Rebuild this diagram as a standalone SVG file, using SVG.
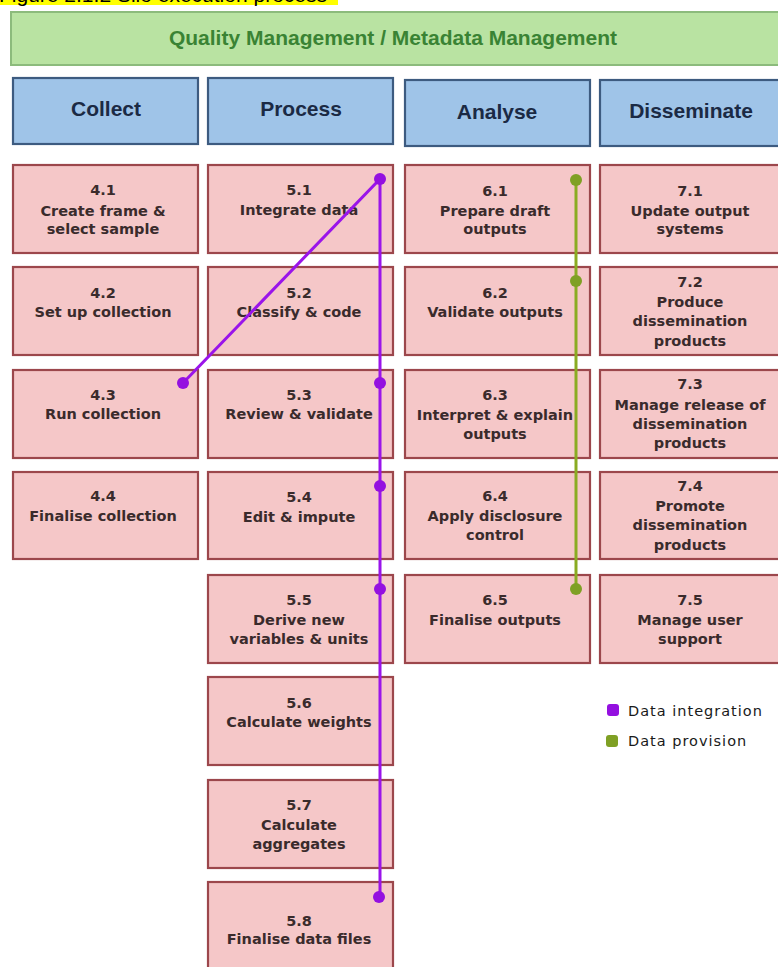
<svg xmlns="http://www.w3.org/2000/svg" width="778" height="967" viewBox="0 0 778 967">
  <style>
    .banner{fill:#b9e3a2;stroke:#8cbb7c;stroke-width:2}
    .bannerText{font-family:"Liberation Sans",Arial,sans-serif;font-weight:bold;font-size:21px;fill:#3a8334;text-anchor:middle}
    .hdr{fill:#9fc4e8;stroke:#3d5b80;stroke-width:2.2}
    .hdrText{font-family:"Liberation Sans",Arial,sans-serif;font-weight:bold;font-size:21px;fill:#1b2a44;text-anchor:middle}
    .box{fill:#f5c7c8;stroke:#9c474c;stroke-width:2.2}
    .t{font-family:"DejaVu Sans",Verdana,sans-serif;font-weight:bold;font-size:14.5px;fill:#3a2b2c;text-anchor:middle}
    .legend{font-family:"DejaVu Sans",Verdana,sans-serif;font-size:14.5px;fill:#1a1a1a;letter-spacing:1px}
    .integ{stroke:#9a14ea;stroke-width:3;fill:none}
    .prov{stroke:#8aac22;stroke-width:3;fill:none}
    .integDot{fill:#9410e0}
    .provDot{fill:#7fa024}
  </style>

  <rect width="778" height="967" fill="#ffffff"/>

  <!-- caption, mostly above the page -->
  <g id="caption">
    <rect x="0" y="0" width="338" height="5" fill="#ffff00"/>
    <text x="-1" y="2" font-family="Liberation Sans, Arial, sans-serif" font-size="21" fill="#000">Figure 2.1.2 Silo execution process</text>
  </g>

  <!-- overarching management band -->
  <g id="band">
    <rect class="banner" x="11" y="12" width="775" height="53"/>
    <text class="bannerText" x="393" y="45">Quality Management / Metadata Management</text>
  </g>

  <!-- phase headers -->
  <g id="hdr-collect"><rect class="hdr" x="13" y="78" width="185" height="66"/><text class="hdrText" x="106" y="116">Collect</text></g>
  <g id="hdr-process"><rect class="hdr" x="208" y="78" width="185" height="66"/><text class="hdrText" x="301" y="116">Process</text></g>
  <g id="hdr-analyse"><rect class="hdr" x="405" y="80" width="185" height="66"/><text class="hdrText" x="497" y="119">Analyse</text></g>
  <g id="hdr-disseminate"><rect class="hdr" x="600" y="80" width="186" height="66"/><text class="hdrText" x="691" y="118">Disseminate</text></g>

  <!-- Collect -->
  <g id="n41"><rect class="box" x="13" y="165" width="185" height="88"/>
    <text class="t" x="103" y="195">4.1</text><text class="t" x="103" y="216">Create frame &amp;</text><text class="t" x="103" y="234">select sample</text></g>
  <g id="n42"><rect class="box" x="13" y="267" width="185" height="88"/>
    <text class="t" x="103" y="298">4.2</text><text class="t" x="103" y="317">Set up collection</text></g>
  <g id="n43"><rect class="box" x="13" y="370" width="185" height="88"/>
    <text class="t" x="103" y="400">4.3</text><text class="t" x="103" y="419">Run collection</text></g>
  <g id="n44"><rect class="box" x="13" y="472" width="185" height="87"/>
    <text class="t" x="103" y="501">4.4</text><text class="t" x="103" y="521">Finalise collection</text></g>

  <!-- Process -->
  <g id="n51"><rect class="box" x="208" y="165" width="185" height="88"/>
    <text class="t" x="299" y="195">5.1</text><text class="t" x="299" y="215">Integrate data</text></g>
  <g id="n52"><rect class="box" x="208" y="267" width="185" height="88"/>
    <text class="t" x="299" y="298">5.2</text><text class="t" x="299" y="317">Classify &amp; code</text></g>
  <g id="n53"><rect class="box" x="208" y="370" width="185" height="88"/>
    <text class="t" x="299" y="400">5.3</text><text class="t" x="299" y="419">Review &amp; validate</text></g>
  <g id="n54"><rect class="box" x="208" y="472" width="185" height="87"/>
    <text class="t" x="299" y="502">5.4</text><text class="t" x="299" y="522">Edit &amp; impute</text></g>
  <g id="n55"><rect class="box" x="208" y="575" width="185" height="88"/>
    <text class="t" x="299" y="605">5.5</text><text class="t" x="299" y="625">Derive new</text><text class="t" x="299" y="644">variables &amp; units</text></g>
  <g id="n56"><rect class="box" x="208" y="677" width="185" height="88"/>
    <text class="t" x="299" y="708">5.6</text><text class="t" x="299" y="727">Calculate weights</text></g>
  <g id="n57"><rect class="box" x="208" y="780" width="185" height="88"/>
    <text class="t" x="299" y="810">5.7</text><text class="t" x="299" y="830">Calculate</text><text class="t" x="299" y="849">aggregates</text></g>
  <g id="n58"><rect class="box" x="208" y="882" width="185" height="90"/>
    <text class="t" x="299" y="926">5.8</text><text class="t" x="299" y="944">Finalise data files</text></g>

  <!-- Analyse -->
  <g id="n61"><rect class="box" x="405" y="165" width="185" height="88"/>
    <text class="t" x="495" y="196">6.1</text><text class="t" x="495" y="216">Prepare draft</text><text class="t" x="495" y="234">outputs</text></g>
  <g id="n62"><rect class="box" x="405" y="267" width="185" height="88"/>
    <text class="t" x="495" y="298">6.2</text><text class="t" x="495" y="317">Validate outputs</text></g>
  <g id="n63"><rect class="box" x="405" y="370" width="185" height="88"/>
    <text class="t" x="495" y="400">6.3</text><text class="t" x="495" y="420">Interpret &amp; explain</text><text class="t" x="495" y="439">outputs</text></g>
  <g id="n64"><rect class="box" x="405" y="472" width="185" height="87"/>
    <text class="t" x="495" y="501">6.4</text><text class="t" x="495" y="521">Apply disclosure</text><text class="t" x="495" y="540">control</text></g>
  <g id="n65"><rect class="box" x="405" y="575" width="185" height="88"/>
    <text class="t" x="495" y="605">6.5</text><text class="t" x="495" y="625">Finalise outputs</text></g>

  <!-- Disseminate -->
  <g id="n71"><rect class="box" x="600" y="165" width="186" height="88"/>
    <text class="t" x="690" y="196">7.1</text><text class="t" x="690" y="216">Update output</text><text class="t" x="690" y="234">systems</text></g>
  <g id="n72"><rect class="box" x="600" y="267" width="186" height="88"/>
    <text class="t" x="690" y="287">7.2</text><text class="t" x="690" y="307">Produce</text><text class="t" x="690" y="326">dissemination</text><text class="t" x="690" y="346">products</text></g>
  <g id="n73"><rect class="box" x="600" y="370" width="186" height="88"/>
    <text class="t" x="690" y="389">7.3</text><text class="t" x="690" y="410">Manage release of</text><text class="t" x="690" y="429">dissemination</text><text class="t" x="690" y="448">products</text></g>
  <g id="n74"><rect class="box" x="600" y="472" width="186" height="87"/>
    <text class="t" x="690" y="491">7.4</text><text class="t" x="690" y="511">Promote</text><text class="t" x="690" y="530">dissemination</text><text class="t" x="690" y="550">products</text></g>
  <g id="n75"><rect class="box" x="600" y="575" width="186" height="88"/>
    <text class="t" x="690" y="605">7.5</text><text class="t" x="690" y="625">Manage user</text><text class="t" x="690" y="644">support</text></g>

  <!-- flow connectors -->
  <g id="connectors">
    <polyline class="integ" points="183,383 380,179 380,897"/>
    <line class="prov" x1="576" y1="180" x2="576" y2="589"/>
    <circle class="integDot" cx="183" cy="383" r="6"/>
    <circle class="integDot" cx="380" cy="179" r="6"/>
    <circle class="integDot" cx="380" cy="383" r="6"/>
    <circle class="integDot" cx="380" cy="486" r="6"/>
    <circle class="integDot" cx="380" cy="589" r="6"/>
    <circle class="integDot" cx="379" cy="897" r="6"/>
    <circle class="provDot" cx="576" cy="180" r="6"/>
    <circle class="provDot" cx="576" cy="281" r="6"/>
    <circle class="provDot" cx="576" cy="589" r="6"/>
  </g>

  <!-- legend -->
  <g id="legend">
    <rect class="integDot" x="607" y="704" width="12" height="12" rx="3"/>
    <text class="legend" x="628" y="716">Data integration</text>
    <rect class="provDot" x="606" y="735" width="12" height="12" rx="3"/>
    <text class="legend" x="628" y="746">Data provision</text>
  </g>
</svg>
